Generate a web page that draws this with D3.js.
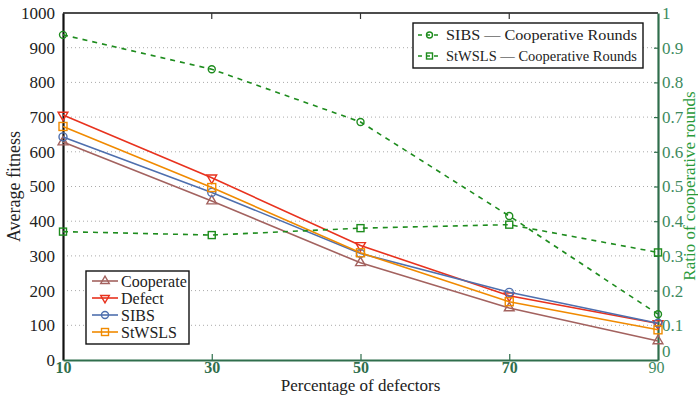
<!DOCTYPE html>
<html>
<head>
<meta charset="utf-8">
<script src="https://cdn.jsdelivr.net/npm/d3@7"></script>
<style>
  body { margin: 0; background: #fff; }
  svg text { font-family: "Liberation Serif", "DejaVu Serif", serif; }
</style>
</head>
<body>
<div id="chart"></div>
<script>
// percentage of defectors on the x axis
var defectors = [10, 30, 50, 70, 90]

// average fitness (left axis)
var cooperate = [628, 458, 280, 150, 55]
var defect = [706, 525, 330, 185, 105]
var sibs = [643, 483, 307, 195, 106]
var stwsls = [673, 497, 309, 168, 87]

// ratio of cooperative rounds (right axis)
var sibsCoop = [0.937, 0.838, 0.686, 0.415, 0.132]
var stwslsCoop = [0.37, 0.36, 0.38, 0.39, 0.31]

var leftTicks = [0, 100, 200, 300, 400, 500, 600, 700, 800, 900, 1000]
var rightTicks = [0, 0.1, 0.2, 0.3, 0.4, 0.5, 0.6, 0.7, 0.8, 0.9, 1]

var fitnessSeries = [
  { name: "Cooperate", values: cooperate, color: "#a3625f", marker: "up" },
  { name: "Defect", values: defect, color: "#e8321e", marker: "down" },
  { name: "SIBS", values: sibs, color: "#4e6fae", marker: "circle" },
  { name: "StWSLS", values: stwsls, color: "#f08a00", marker: "square" }
]
var coopSeries = [
  { name: "SIBS \u2014 Cooperative Rounds", values: sibsCoop, marker: "circle" },
  { name: "StWSLS \u2014 Cooperative Rounds", values: stwslsCoop, marker: "square" }
]

var green = "#1e8c1e"
var axisGreen = "#2f6e4c"
var tickGreen = "#3d8a60"

// plot box (note: "top" is reserved on window, so use p-prefixed names)
var W = 698, H = 397
var pLeft = 63, pRight = 658, pTop = 13, pBottom = 360

var svg = d3.select("#chart").append("svg")
  .attr("width", W).attr("height", H)

var x = d3.scaleLinear().domain([10, 90]).range([pLeft, pRight])
var yL = d3.scaleLinear().domain([0, 1000]).range([pBottom, pTop])
var yR = d3.scaleLinear().domain([0, 1]).range([pBottom, pTop])

// dotted gridlines
svg.append("g").selectAll("line")
  .data(leftTicks.slice(1, -1))
  .enter().append("line")
  .attr("x1", pLeft).attr("x2", pRight)
  .attr("y1", function(d) { return yL(d) })
  .attr("y2", function(d) { return yL(d) })
  .attr("stroke", "#aaa")
  .attr("stroke-width", 1)
  .attr("stroke-dasharray", "1,3")

// top frame line with small ticks
svg.append("line")
  .attr("x1", pLeft).attr("x2", pRight).attr("y1", pTop).attr("y2", pTop)
  .attr("stroke", "#111").attr("stroke-width", 1.5)
svg.append("g").selectAll("line")
  .data(defectors.slice(1, -1))
  .enter().append("line")
  .attr("x1", function(d) { return x(d) }).attr("x2", function(d) { return x(d) })
  .attr("y1", pTop).attr("y2", pTop + 6)
  .attr("stroke", "#333").attr("stroke-width", 1.2)

// left axis
var gLeft = svg.append("g")
  .attr("transform", "translate(" + pLeft + ",0)")
  .call(d3.axisLeft(yL).tickValues(leftTicks).tickSize(0).tickPadding(8)
    .tickFormat(d3.format("d")))
gLeft.select(".domain").attr("stroke", "#111").attr("stroke-width", 2.2)
gLeft.selectAll("text").attr("font-size", 17).attr("fill", "#222")

// bottom axis
var gBottom = svg.append("g")
  .attr("transform", "translate(0," + pBottom + ")")
  .call(d3.axisBottom(x).tickValues(defectors).tickSize(0).tickPadding(2))
gBottom.select(".domain").attr("stroke", axisGreen).attr("stroke-width", 2)
gBottom.selectAll("text")
  .attr("font-size", 16)
  .attr("font-weight", function(d) { return d === 90 ? "normal" : "bold" })
  .attr("fill", function(d) { return d === 90 ? tickGreen : axisGreen })
  .attr("dx", function(d) { return d === 90 ? -2 : 0 })
gBottom.selectAll(".tick").filter(function(d) { return d !== 10 && d !== 90 })
  .append("line").attr("y2", -6).attr("stroke", axisGreen).attr("stroke-width", 1.2)

// right axis
var gRight = svg.append("g")
  .attr("transform", "translate(" + pRight + ",0)")
  .call(d3.axisRight(yR).tickValues(rightTicks).tickSize(0).tickPadding(4)
    .tickFormat(function(d) { return d === 0 ? "0" : d === 1 ? "1" : d3.format(".1f")(d) }))
gRight.select(".domain").attr("stroke", axisGreen).attr("stroke-width", 2.2)
gRight.selectAll("text").attr("font-size", 17).attr("fill", tickGreen)
  .attr("dy", function(d) { return d === 0 ? "-0.2em" : "0.32em" })
gRight.selectAll(".tick").filter(function(d) { return d > 0 && d < 1 })
  .append("line").attr("x2", -4).attr("stroke", axisGreen).attr("stroke-width", 1.2)

// axis titles
svg.append("text")
  .text("Average fitness")
  .attr("transform", "translate(20," + ((pTop + pBottom) / 2) + ") rotate(-90)")
  .attr("text-anchor", "middle")
  .attr("font-size", 18)
  .attr("fill", "#222")

svg.append("text")
  .text("Percentage of defectors")
  .attr("x", (pLeft + pRight) / 2)
  .attr("y", 391)
  .attr("text-anchor", "middle")
  .attr("font-size", 17)
  .attr("fill", "#222")

svg.append("text")
  .text("Ratio of cooperative rounds")
  .attr("transform", "translate(695,186) rotate(-90)")
  .attr("text-anchor", "middle")
  .attr("font-size", 17)
  .attr("fill", "#2a9a3a")

// marker drawing helper
function drawMarker(g, type, cx, cy, color, size) {
  if (type === "circle") {
    g.append("circle").attr("cx", cx).attr("cy", cy).attr("r", size)
      .attr("fill", "none").attr("stroke", color).attr("stroke-width", 1.4)
  } else if (type === "square") {
    g.append("rect").attr("x", cx - size).attr("y", cy - size)
      .attr("width", size * 2).attr("height", size * 2)
      .attr("fill", "none").attr("stroke", color).attr("stroke-width", 1.4)
  } else {
    var sym = d3.symbol().type(d3.symbolTriangle).size(size * size * 2.6)
    g.append("path").attr("d", sym())
      .attr("transform", "translate(" + cx + "," + cy + ")" + (type === "down" ? " rotate(180)" : ""))
      .attr("fill", "none").attr("stroke", color).attr("stroke-width", 1.4)
  }
}

// fitness lines
var lineL = d3.line()
  .x(function(d, i) { return x(defectors[i]) })
  .y(function(d) { return yL(d) })

fitnessSeries.forEach(function(s) {
  var g = svg.append("g")
  g.append("path")
    .attr("d", lineL(s.values))
    .attr("fill", "none")
    .attr("stroke", s.color)
    .attr("stroke-width", 1.6)
  s.values.forEach(function(v, i) {
    drawMarker(g, s.marker, x(defectors[i]), yL(v), s.color, 4)
  })
})

// cooperative rounds lines
var lineR = d3.line()
  .x(function(d, i) { return x(defectors[i]) })
  .y(function(d) { return yR(d) })

coopSeries.forEach(function(s) {
  var g = svg.append("g")
  g.append("path")
    .attr("d", lineR(s.values))
    .attr("fill", "none")
    .attr("stroke", green)
    .attr("stroke-width", 1.6)
    .attr("stroke-dasharray", "5,5")
  s.values.forEach(function(v, i) {
    drawMarker(g, s.marker, x(defectors[i]), yR(v), green, 3.5)
  })
})

// legend for fitness
var leg1 = svg.append("g").attr("transform", "translate(86,271)")
leg1.append("rect")
  .attr("width", 103).attr("height", 73)
  .attr("fill", "#fff").attr("stroke", "#111").attr("stroke-width", 1.4)
fitnessSeries.forEach(function(s, i) {
  var cy = 10 + i * 17
  leg1.append("line").attr("x1", 6).attr("x2", 32).attr("y1", cy).attr("y2", cy)
    .attr("stroke", s.color).attr("stroke-width", 1.6)
  drawMarker(leg1, s.marker, 19, cy, s.color, 3.5)
  leg1.append("text").text(s.name)
    .attr("x", 35).attr("y", cy).attr("dy", "0.35em")
    .attr("font-size", 16).attr("fill", "#222")
})

// legend for cooperative rounds
var leg2 = svg.append("g").attr("transform", "translate(413,23)")
leg2.append("rect")
  .attr("width", 230).attr("height", 45)
  .attr("fill", "#fff").attr("stroke", "#111").attr("stroke-width", 1.4)
coopSeries.forEach(function(s, i) {
  var cy = 12 + i * 21
  leg2.append("line").attr("x1", 5).attr("x2", 28).attr("y1", cy).attr("y2", cy)
    .attr("stroke", green).attr("stroke-width", 1.6).attr("stroke-dasharray", "4,4")
  drawMarker(leg2, s.marker, 16.5, cy, green, 3)
  leg2.append("text").text(s.name)
    .attr("x", 33).attr("y", cy).attr("dy", "0.35em")
    .attr("font-size", 15).attr("fill", "#222")
    .attr("textLength", 191).attr("lengthAdjust", "spacingAndGlyphs")
})
</script>
</body>
</html>
